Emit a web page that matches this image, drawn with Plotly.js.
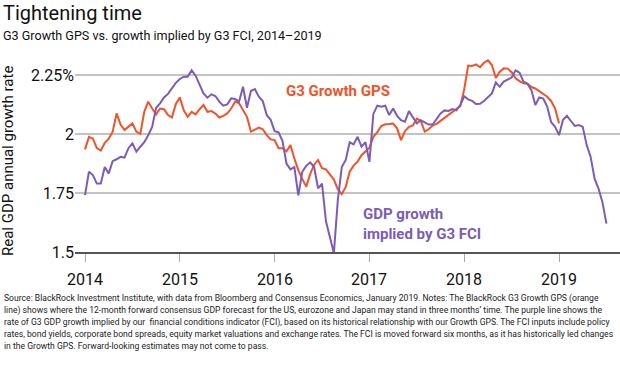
<!DOCTYPE html>
<html>
<head>
<meta charset="utf-8">
<script src="https://cdn.plot.ly/plotly-3.0.1.min.js"></script>
<style>
html,body{margin:0;padding:0;background:#fff;}
#chart{width:620px;height:365px;}
</style>
</head>
<body>
<div id="chart"></div>
<script>
// Semi-monthly observations starting January 2014
const startYear = 2014;
const stepYears = 1 / 24;

const gpsValues = [
  1.935, 1.988, 1.98, 1.94, 1.93, 1.963, 1.98, 2.01, 2.087, 2.04,
  2.017, 2.03, 2.045, 2.01, 2.0, 2.094, 2.137, 2.108, 2.083, 2.108,
  2.105, 2.08, 2.07, 2.127, 2.155, 2.10, 2.073, 2.094, 2.083, 2.105,
  2.123, 2.094, 2.097, 2.087, 2.07, 2.077, 2.087, 2.108, 2.137, 2.13,
  2.10, 2.073, 2.01, 2.017, 2.027, 2.02, 1.995, 1.977, 1.974, 1.94,
  1.94, 1.927, 1.953, 1.896, 1.847, 1.81, 1.777, 1.83, 1.87, 1.89,
  1.855, 1.85, 1.83, 1.807, 1.766, 1.745, 1.776, 1.84, 1.866, 1.883,
  1.91, 1.928, 1.942, 1.988, 2.008, 2.034, 2.041, 2.042, 2.044, 2.024,
  1.974, 2.012, 2.03, 2.036, 2.065, 2.055, 2.01, 2.02, 2.036, 2.043,
  2.055, 2.066, 2.08, 2.09, 2.104, 2.118, 2.19, 2.29, 2.288, 2.295,
  2.283, 2.302, 2.312, 2.292, 2.237, 2.264, 2.278, 2.277, 2.262, 2.236,
  2.224, 2.215, 2.213, 2.199, 2.193, 2.182, 2.17, 2.158, 2.14, 2.108,
  2.045
];

const fciValues = [
  1.741, 1.84, 1.826, 1.79, 1.79, 1.86, 1.833, 1.885, 1.893, 1.903,
  1.9, 1.94, 1.96, 1.925, 1.946, 1.965, 1.995, 2.03, 2.111, 2.13,
  2.155, 2.17, 2.193, 2.217, 2.233, 2.243, 2.243, 2.27, 2.247, 2.21,
  2.172, 2.154, 2.168, 2.161, 2.137, 2.12, 2.125, 2.151, 2.148, 2.137,
  2.2, 2.111, 2.182, 2.19, 2.158, 2.14, 2.08, 2.06, 2.012, 2.007,
  1.97, 1.875, 1.85, 1.86, 1.74, 1.84, 1.865, 1.88, 1.86, 1.77,
  1.79, 1.63, 1.56, 1.495, 1.72, 1.86, 1.89, 1.965, 1.956, 1.988,
  1.946, 1.965, 1.882, 2.085, 2.12, 2.116, 2.12, 2.08, 2.108, 2.077,
  2.059, 2.052, 2.097, 2.069, 2.045, 2.058, 2.05, 2.04, 2.04, 2.063,
  2.087, 2.1, 2.098, 2.106, 2.1, 2.123, 2.16, 2.147, 2.14, 2.127,
  2.128, 2.14, 2.154, 2.172, 2.219, 2.2, 2.222, 2.229, 2.239, 2.27,
  2.26, 2.222, 2.213, 2.186, 2.123, 2.155, 2.15, 2.116, 2.05, 2.03,
  1.995, 2.06, 2.077, 2.055, 2.034, 2.038, 2.03, 1.953, 1.903, 1.811,
  1.769, 1.71, 1.62
];

const xTickValues = [2014, 2015, 2016, 2017, 2018, 2019];
const xTickLabels = ['2014', '2015', '2016', '2017', '2018', '2019'];
const yTickValues = [1.5, 1.75, 2, 2.25];
const yTickLabels = ['1.5', '1.75', '2', '2.25%'];

const titleText = 'Tightening time';
const subtitleText = 'G3 Growth GPS vs. growth implied by G3 FCI, 2014\u20132019';
const yTitleText = 'Real GDP annual growth rate';
const gpsLabel = 'G3 Growth GPS';
const fciLabel = 'GDP growth<br>implied by G3 FCI';
const noteLines = [
  'Source: BlackRock Investment Institute, with data from Bloomberg and Consensus Economics, January 2019. Notes: The BlackRock G3 Growth GPS (orange',
  'line) shows where the 12-month forward consensus GDP forecast for the US, eurozone and Japan may stand in three months\u2019 time. The purple line shows the',
  'rate of G3 GDP growth implied by our  financial conditions indicator (FCI), based on its historical relationship with our Growth GPS. The FCI inputs include policy',
  'rates, bond yields, corporate bond spreads, equity market valuations and exchange rates. The FCI is moved forward six months, as it has historically led changes',
  'in the Growth GPS. Forward-looking estimates may not come to pass.'
];

const ORANGE = '#f0532a';
const PURPLE = '#7c5cb6';

// layout geometry (pixels)
const W = 620, H = 365, L = 75, R = 0, T = 58, B = 113;
const plotW = W - L - R, plotH = H - T - B;
const px = v => (v - L) / plotW;
const py = v => (H - B - v) / plotH;

const FONT = 'Roboto, "Open Sans", sans-serif';
const NOTE_FONT = 'Roboto, "Liberation Sans", sans-serif';
const noteY = [298, 310, 322, 334, 346];

const traces = [
  {
    type: 'scatter', mode: 'lines', name: gpsLabel,
    x0: startYear, dx: stepYears, y: gpsValues,
    line: {color: ORANGE, width: 2}, hoverinfo: 'skip'
  },
  {
    type: 'scatter', mode: 'lines', name: 'GDP growth implied by G3 FCI',
    x0: startYear, dx: stepYears, y: fciValues,
    line: {color: PURPLE, width: 2}, hoverinfo: 'skip'
  }
];

const annotations = [
  {text: titleText, xref: 'paper', yref: 'paper', x: px(1), y: py(13), xanchor: 'left', yanchor: 'middle',
   showarrow: false, font: {family: FONT, size: 20, color: '#111'}},
  {text: subtitleText, xref: 'paper', yref: 'paper', x: px(1), y: py(35), xanchor: 'left', yanchor: 'middle',
   showarrow: false, font: {family: FONT, size: 12.6, color: '#111'}},
  {text: yTitleText, xref: 'paper', yref: 'paper', x: px(8), y: py(161), xanchor: 'center', yanchor: 'middle',
   textangle: -90, showarrow: false, font: {family: FONT, size: 15, color: '#111'}},
  {text: '<b>' + gpsLabel + '</b>', xref: 'paper', yref: 'paper', x: px(284), y: py(91), xanchor: 'left', yanchor: 'middle',
   showarrow: false, font: {family: FONT, size: 15, color: ORANGE}},
  {text: '<b>' + fciLabel + '</b>', xref: 'paper', yref: 'paper', x: px(361), y: py(224), xanchor: 'left', yanchor: 'middle',
   align: 'left', showarrow: false, font: {family: FONT, size: 15, color: PURPLE}}
];
// x-axis year labels, placed on the axis's own scale
xTickValues.forEach((v, i) => {
  annotations.push({text: xTickLabels[i], xref: 'x', yref: 'paper', x: v, y: py(279), xanchor: 'center', yanchor: 'middle',
    showarrow: false, font: {family: FONT, size: 16, color: '#111'}});
});
noteLines.forEach((t, i) => {
  annotations.push({text: t, xref: 'paper', yref: 'paper', x: px(2), y: py(noteY[i]), xanchor: 'left', yanchor: 'middle',
    showarrow: false, font: {family: NOTE_FONT, size: 8.6, color: '#222'}});
});

const layout = {
  width: W, height: H,
  margin: {l: L, r: R, t: T, b: B, pad: 0},
  paper_bgcolor: '#fff', plot_bgcolor: '#fff',
  showlegend: false,
  xaxis: {
    range: [2013.8945, 2019.643], tickvals: xTickValues, ticktext: xTickLabels,
    ticks: 'outside', ticklen: 8, tickcolor: '#aaa', tickwidth: 1,
    showticklabels: false,
    showline: true, linecolor: '#555', linewidth: 2,
    showgrid: false, zeroline: false, fixedrange: true
  },
  yaxis: {
    range: [1.5, 2.322], tickvals: yTickValues, ticktext: yTickLabels,
    showgrid: true, gridcolor: '#c3c3c3', gridwidth: 1.5,
    zeroline: false, showline: false, ticks: '',
    tickfont: {family: FONT, size: 16, color: '#111'}, fixedrange: true
  },
  annotations: annotations
};

Plotly.newPlot('chart', traces, layout, {displayModeBar: false, staticPlot: true});
</script>
</body>
</html>
